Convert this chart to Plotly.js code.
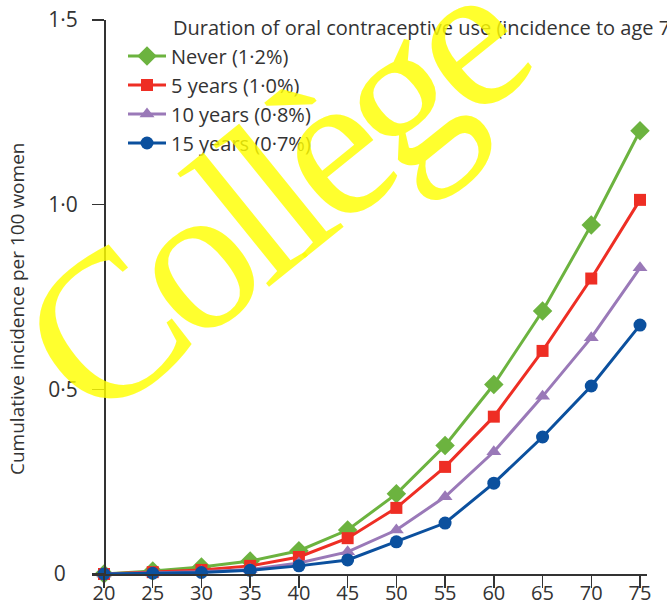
<!DOCTYPE html>
<html>
<head>
<meta charset="utf-8">
<script src="https://cdn.plot.ly/plotly-3.0.1.min.js"></script>
<style>html,body{margin:0;padding:0;background:#fff;}#chart{width:667px;height:605px;}</style>
</head>
<body>
<div id="chart"></div>
<script>
// Age (years)
const ages = [20, 25, 30, 35, 40, 45, 50, 55, 60, 65, 70, 75];
// Cumulative incidence per 100 women, by duration of oral contraceptive use
const neverUse   = [0, 0.008, 0.019, 0.035, 0.063, 0.119, 0.217, 0.348, 0.513, 0.712, 0.945, 1.200];
const fiveYears  = [0, 0.005, 0.011, 0.022, 0.046, 0.097, 0.179, 0.290, 0.426, 0.604, 0.800, 1.013];
const tenYears   = [0, 0.003, 0.006, 0.012, 0.030, 0.060, 0.119, 0.209, 0.331, 0.481, 0.640, 0.829];
const fifteenYrs = [0, 0.002, 0.004, 0.010, 0.022, 0.038, 0.087, 0.138, 0.246, 0.371, 0.509, 0.674];

const seriesNames = ["Never (1·2%)", "5 years (1·0%)", "10 years (0·8%)", "15 years (0·7%)"];
const xTickVals = [20, 25, 30, 35, 40, 45, 50, 55, 60, 65, 70, 75];
const yTickVals = [0, 0.5, 1.0, 1.5];
const yTickText = ["0\u2007", "0·5", "1·0", "1·5"];

const legendTitle = "Duration of oral contraceptive use (incidence to age 75 years)";
const yTitle = "Cumulative incidence per 100 women";
const watermark = "Collège";

const FONT = "Open Sans, Noto Sans, sans-serif";
const colors = ["#6cb33f", "#ee2e24", "#9a79b8", "#0b509e"];
const symbols = ["diamond", "square", "triangle-up", "circle"];
const sizes = [15, 12, 13, 13];
const allY = [neverUse, fiveYears, tenYears, fifteenYrs];

const traces = allY.map((ys, i) => ({
  x: ages, y: ys, name: seriesNames[i], type: "scatter", mode: "lines+markers",
  line: {color: colors[i], width: 3},
  marker: {symbol: symbols[i], size: sizes[i], color: colors[i]},
  cliponaxis: false
}));

const L = 92, R = 20, T = 20, B = 31;
const W = 667 - L - R, H = 605 - T - B;
const px = v => (v - L) / W;
const py = v => (605 - B - v) / H;

const layout = {
  width: 667, height: 605,
  margin: {l: L, r: R, t: T, b: B},
  paper_bgcolor: "#fff", plot_bgcolor: "#fff",
  font: {family: FONT, color: "#333"},
  showlegend: true,
  legend: {
    x: px(123), y: py(36.5), xanchor: "left", yanchor: "top",
    font: {family: FONT, size: 20, color: "#333"},
    itemwidth: 38,
    bgcolor: "rgba(0,0,0,0)", borderwidth: 0, tracegroupgap: 0
  },
  xaxis: {
    range: [20 - 12 / 9.745, 75 + 7 / 9.745],
    tickvals: xTickVals, ticks: "outside", ticklen: 12, tickwidth: 1.5, tickcolor: "#333",
    showline: true, linecolor: "#333", linewidth: 1.5,
    showgrid: false, zeroline: false, ticklabelstandoff: -12,
    tickfont: {family: FONT, size: 20, color: "#333"}
  },
  yaxis: {
    range: [0, 1.5], anchor: "free", position: px(104),
    tickvals: yTickVals, ticktext: yTickText,
    ticks: "outside", ticklen: 12, tickwidth: 1.5, tickcolor: "#333",
    showline: true, linecolor: "#333", linewidth: 1.5,
    showgrid: false, zeroline: false, ticklabelstandoff: 10,
    tickfont: {family: FONT, size: 21, color: "#333"}
  },
  annotations: [
    {text: legendTitle, xref: "paper", yref: "paper", x: px(171), y: py(28),
     xanchor: "left", yanchor: "middle", showarrow: false,
     font: {family: FONT, size: 20, color: "#333"}},
    {text: yTitle, xref: "paper", yref: "paper", x: px(17), y: py(309),
     xanchor: "center", yanchor: "middle", showarrow: false, textangle: -90,
     font: {family: FONT, size: 19, color: "#333"}},
    {text: watermark, xref: "paper", yref: "paper", x: px(270), y: py(196),
     xanchor: "center", yanchor: "middle", showarrow: false, textangle: -39,
     font: {family: "Liberation Serif, serif", size: 210, color: "rgba(255,255,0,0.82)"}}
  ]
};

Plotly.newPlot("chart", traces, layout, {displayModeBar: false, staticPlot: true}).then(gd => {
  gd.querySelectorAll(".annotation-text").forEach(t => {
    if (t.textContent === watermark) t.style.letterSpacing = "-0.06em";
  });
});
</script>
</body>
</html>
